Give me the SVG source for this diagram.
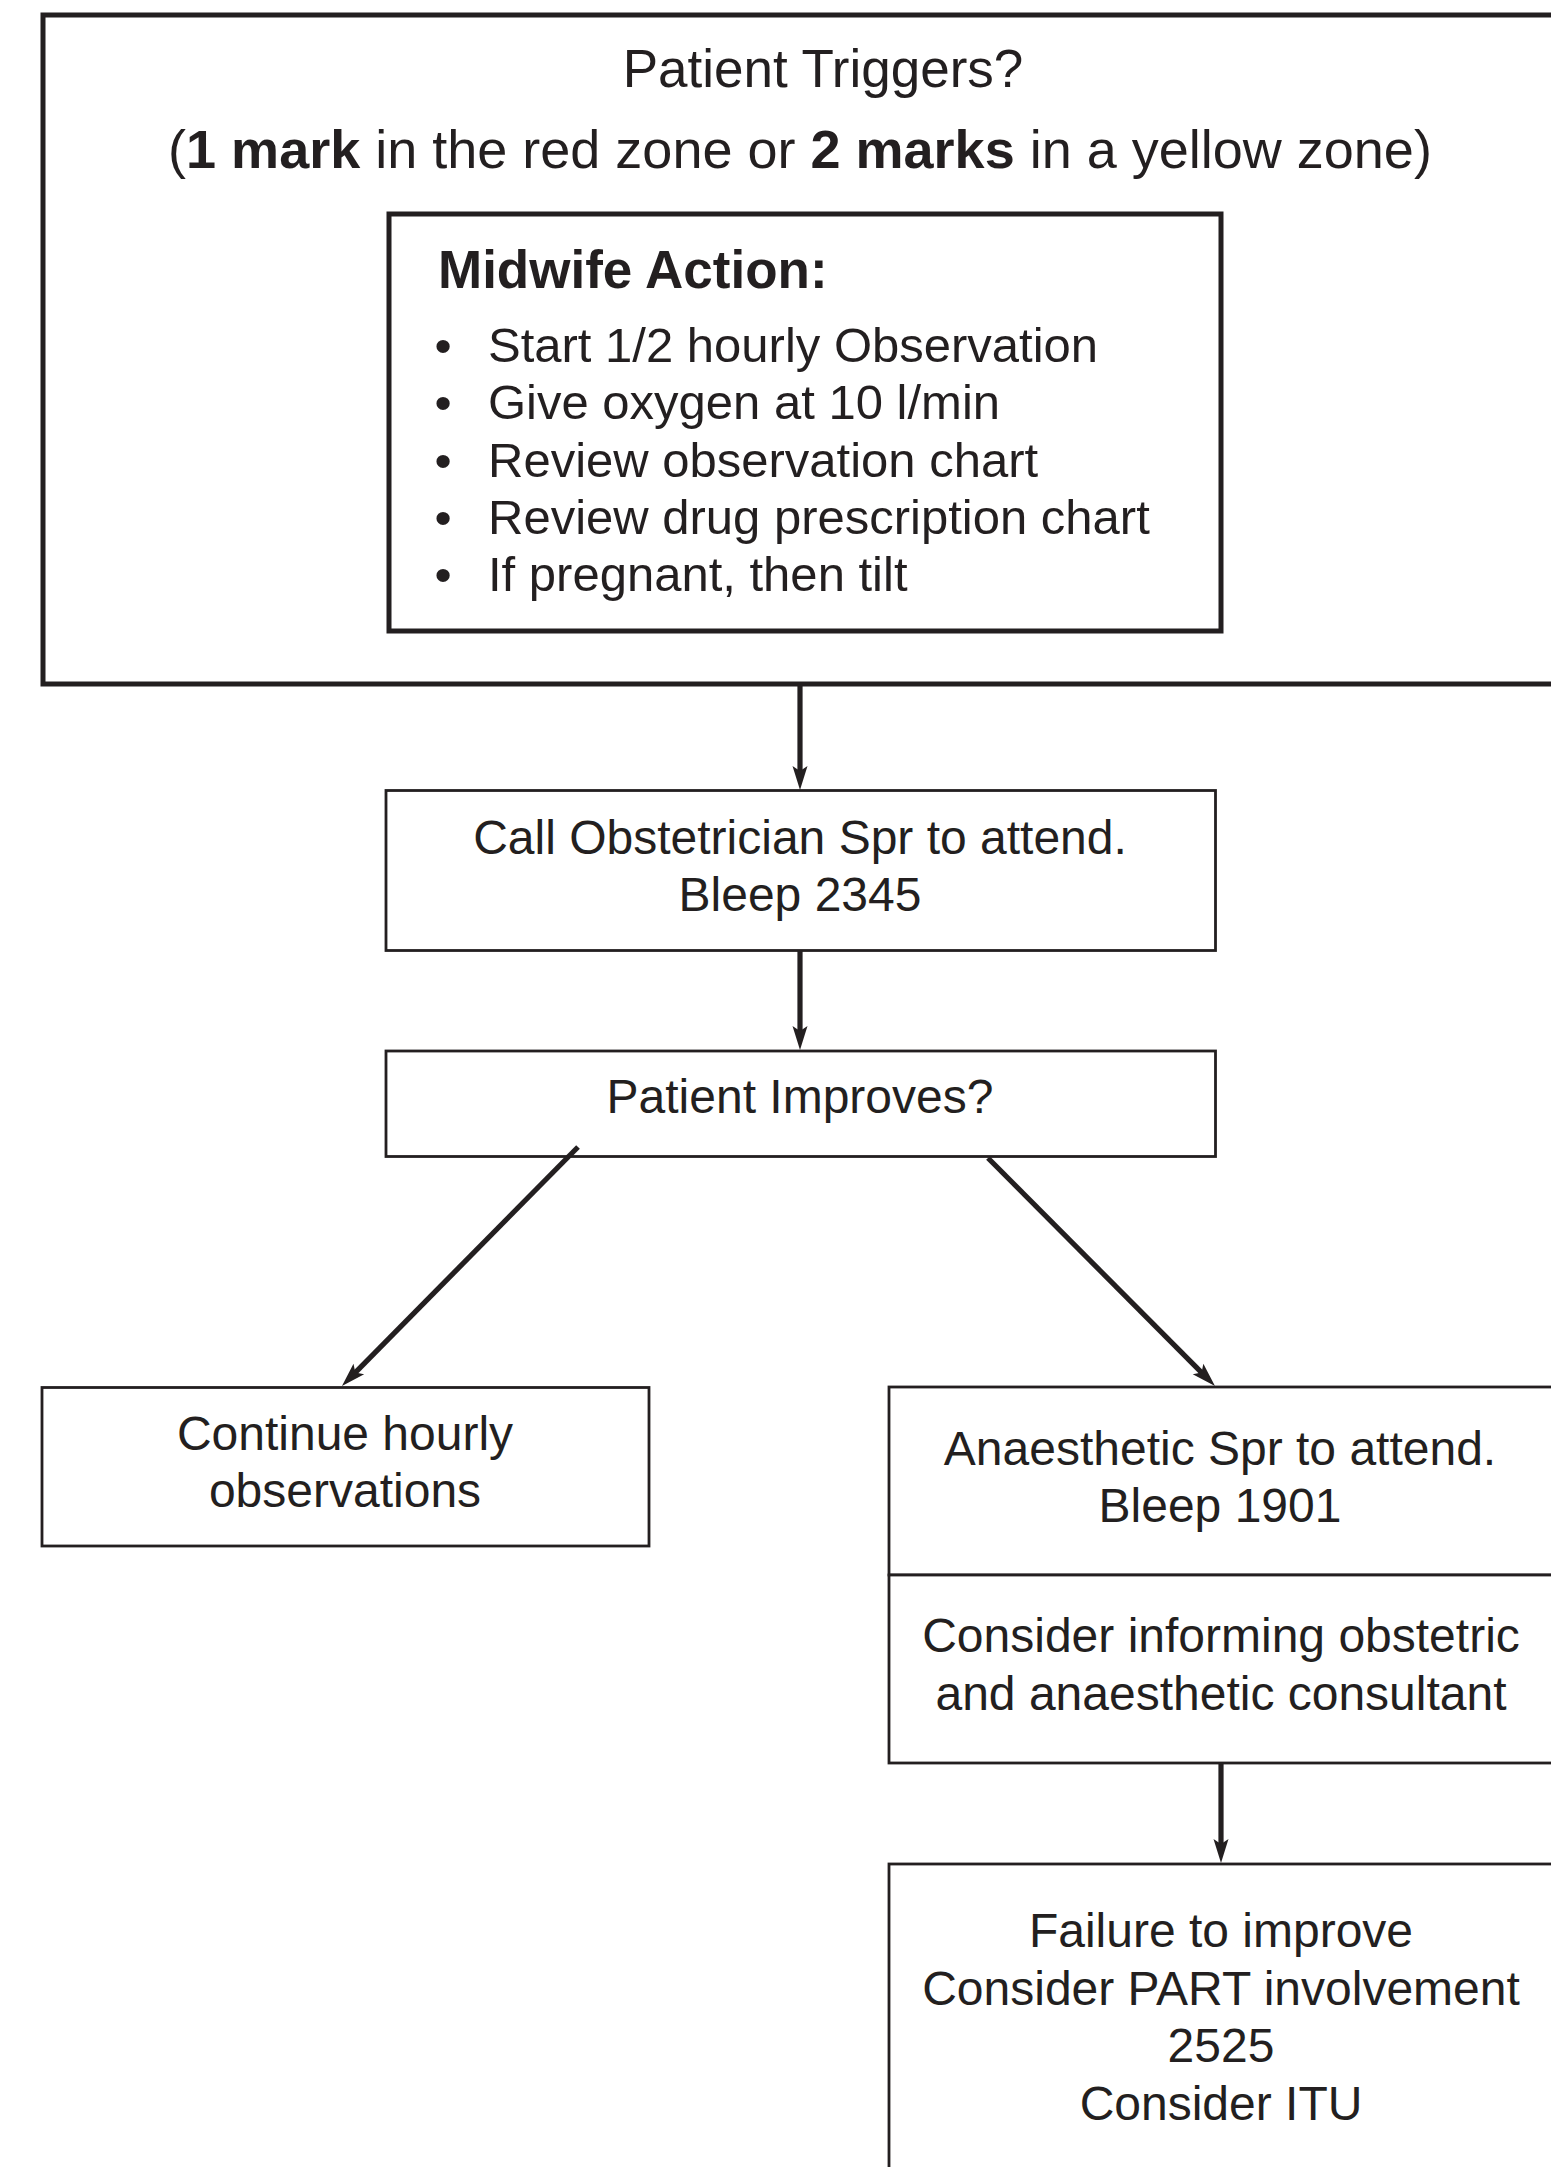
<svg xmlns="http://www.w3.org/2000/svg" width="1551" height="2167" viewBox="0 0 1551 2167">
<style>
  text { font-family: "Liberation Sans", Arial, Helvetica, sans-serif; fill: #231f20; }
  .big { font-size: 53px; }
  .big2 { font-size: 54px; }
  .bul { font-size: 49px; }
  .n { font-size: 48px; text-anchor: middle; }
  .b { font-weight: bold; }
  .thick { fill: #ffffff; stroke: #231f20; stroke-width: 5; }
  .thin { fill: #ffffff; stroke: #231f20; stroke-width: 2.8; }
  .conn { fill: none; stroke: #231f20; stroke-width: 5.2; marker-end: url(#arrow); }
</style>
<defs>
  <marker id="arrow" markerUnits="userSpaceOnUse" markerWidth="26" markerHeight="16" refX="10" refY="7.5" orient="auto" overflow="visible">
    <path d="M0,0 L24,7.5 L0,15 L5,7.5 z" fill="#231f20"/>
  </marker>
</defs>
<rect width="1551" height="2167" fill="#ffffff"/>

<g id="triggers">
  <rect class="thick" x="43" y="15" width="1520" height="669"/>
  <text class="big" x="823" y="87" text-anchor="middle">Patient Triggers?</text>
  <text class="big2" x="800" y="168" text-anchor="middle">(<tspan class="b">1 mark</tspan> in the red zone or <tspan class="b">2 marks</tspan> in a yellow zone)</text>
</g>

<g id="midwife-action">
  <rect class="thick" x="389" y="214" width="832" height="417"/>
  <text class="big b" x="438" y="288">Midwife Action:</text>
  <g class="bul">
    <text x="443" y="362" text-anchor="middle">•</text>
    <text x="488" y="362">Start 1/2 hourly Observation</text>
    <text x="443" y="419" text-anchor="middle">•</text>
    <text x="488" y="419">Give oxygen at 10 l/min</text>
    <text x="443" y="477" text-anchor="middle">•</text>
    <text x="488" y="477">Review observation chart</text>
    <text x="443" y="534" text-anchor="middle">•</text>
    <text x="488" y="534">Review drug prescription chart</text>
    <text x="443" y="591" text-anchor="middle">•</text>
    <text x="488" y="591">If pregnant, then tilt</text>
  </g>
</g>

<g id="call-obstetrician">
  <rect class="thin" x="386" y="790.5" width="829.5" height="160"/>
  <text class="n" x="800" y="854">Call Obstetrician Spr to attend.</text>
  <text class="n" x="800" y="911">Bleep 2345</text>
</g>

<g id="patient-improves">
  <rect class="thin" x="386" y="1051" width="829.5" height="105.5"/>
  <text class="n" x="800" y="1113">Patient Improves?</text>
</g>

<g id="continue-hourly">
  <rect class="thin" x="42" y="1387.5" width="607" height="158.5"/>
  <text class="n" x="345" y="1450">Continue hourly</text>
  <text class="n" x="345" y="1507">observations</text>
</g>

<g id="anaesthetic">
  <rect class="thin" x="889" y="1387" width="680" height="188"/>
  <text class="n" x="1220" y="1465">Anaesthetic Spr to attend.</text>
  <text class="n" x="1220" y="1522">Bleep 1901</text>
</g>

<g id="consider-informing">
  <rect class="thin" x="889" y="1575" width="680" height="188"/>
  <text class="n" x="1221" y="1652">Consider informing obstetric</text>
  <text class="n" x="1221" y="1710">and anaesthetic consultant</text>
</g>

<g id="failure">
  <rect class="thin" x="889" y="1864" width="680" height="340"/>
  <text class="n" x="1221" y="1947">Failure to improve</text>
  <text class="n" x="1221" y="2004.5">Consider PART involvement</text>
  <text class="n" x="1221" y="2062">2525</text>
  <text class="n" x="1221" y="2119.5">Consider ITU</text>
</g>

<g id="connectors">
  <path class="conn" d="M800,686 L800,776"/>
  <path class="conn" d="M800,951 L800,1036"/>
  <path class="conn" d="M578,1147 L351.8,1376.1"/>
  <path class="conn" d="M988,1158 L1205.1,1376.1"/>
  <path class="conn" d="M1221,1764 L1221,1849"/>
</g>
</svg>
